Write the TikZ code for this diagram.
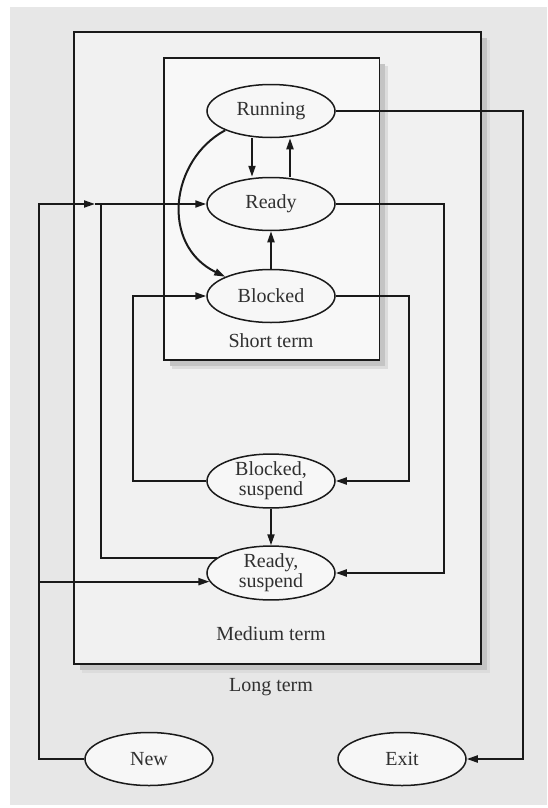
\documentclass[tikz,border=0pt]{standalone}
\usepackage{fontspec}
\setmainfont{Liberation Serif}
\usetikzlibrary{shapes.geometric,arrows.meta,calc}
\definecolor{pagebg}{HTML}{E7E7E7}
\definecolor{midfill}{HTML}{F1F1F1}
\definecolor{shortfill}{HTML}{F8F8F8}
\definecolor{statefill}{HTML}{F7F7F7}
\definecolor{shadowc}{HTML}{C4C4C4}
\definecolor{ink}{HTML}{1A1A1A}
\definecolor{txt}{HTML}{303030}
\begin{document}
\begin{tikzpicture}[x=1pt,y=-1pt,
  state/.style={ellipse,draw=ink,line width=1.5pt,fill=statefill,
    minimum width=128pt,minimum height=53pt,inner sep=0pt,
    font=\fontsize{20}{20}\selectfont,text=txt,align=center},
  lbl/.style={font=\fontsize{20}{20}\selectfont,text=txt},
  conn/.style={draw=ink,line width=2pt},
  arr/.style={conn,-{Triangle[length=11pt,width=7pt]}},
  frame/.style={draw=ink,line width=1.5pt}]
\useasboundingbox (0,0) rectangle (547,808);
\fill[white] (0,0) rectangle (547,808);
\fill[pagebg] (10,7) rectangle (547,805);

% medium-term frame with drop shadow
\fill[shadowc!60] (82,40) rectangle (490,673);
\fill[shadowc] (80,38) rectangle (487,670);
\fill[midfill] (74,32) rectangle (481,664);
\draw[frame] (74,32) rectangle (481,664);

% short-term frame with drop shadow
\fill[shadowc!60] (172,66) rectangle (388,369);
\fill[shadowc] (170,64) rectangle (385,366);
\fill[shortfill] (164,58) rectangle (379.5,360);
\draw[frame] (164,58) rectangle (379.5,360);

% states
\node[state] (run)  at (271,111) {Running};
\node[state] (rdy)  at (271,204) {Ready};
\node[state] (blk)  at (271,296) {Blocked};
\node[state] (bsus) at (271,481) {Blocked,\\suspend};
\node[state] (rsus) at (271,573) {Ready,\\suspend};
\node[state] (new)  at (149,759) {New};
\node[state] (exit) at (402,759) {Exit};

% frame captions
\node[lbl] (lshort) at (271,341) {Short term};
\node[lbl] (lmed)   at (271,634) {Medium term};
\node[lbl] (llong)  at (271,687) {Long term};

% routing columns
\coordinate (xE)  at (523,0);
\coordinate (xRR) at (443.5,0);
\coordinate (xBR) at (409,0);
\coordinate (xBL) at (133,0);
\coordinate (xRL) at (101,0);
\coordinate (xNL) at (39,0);
\coordinate (tipA) at (95,204);

% short-term transitions
\draw[arr] ([xshift=-19pt]run.south) -- ([xshift=-19pt]rdy.north);
\draw[arr] ([xshift=19pt]rdy.north) -- ([xshift=19pt]run.south);
\draw[arr] (blk) -- (rdy);
\draw[arr] (run.south west) .. controls (170,160) and (160,245) .. (blk.north west);

% exit
\draw[arr] (run.east) -| (xE |- exit.east) -- (exit.east);

% suspend / resume
\draw[arr] (rdy.east) -| (xRR |- rsus.east) -- (rsus.east);
\draw[arr] (blk.east) -| (xBR |- bsus.east) -- (bsus.east);
\draw[arr] (bsus.west) -| (xBL |- blk.west) -- (blk.west);
\draw[arr] (bsus) -- (rsus);
\draw[conn] (rsus.164) -| (xRL |- rdy.west);
\draw[arr] (tipA) -- (rdy.west);

% admission of new processes
\draw[arr] (new.west) -| (xNL |- rdy.west) -- (tipA);
\draw[arr] (xNL |- rsus.188) -- (rsus.188);
\end{tikzpicture}
\end{document}
